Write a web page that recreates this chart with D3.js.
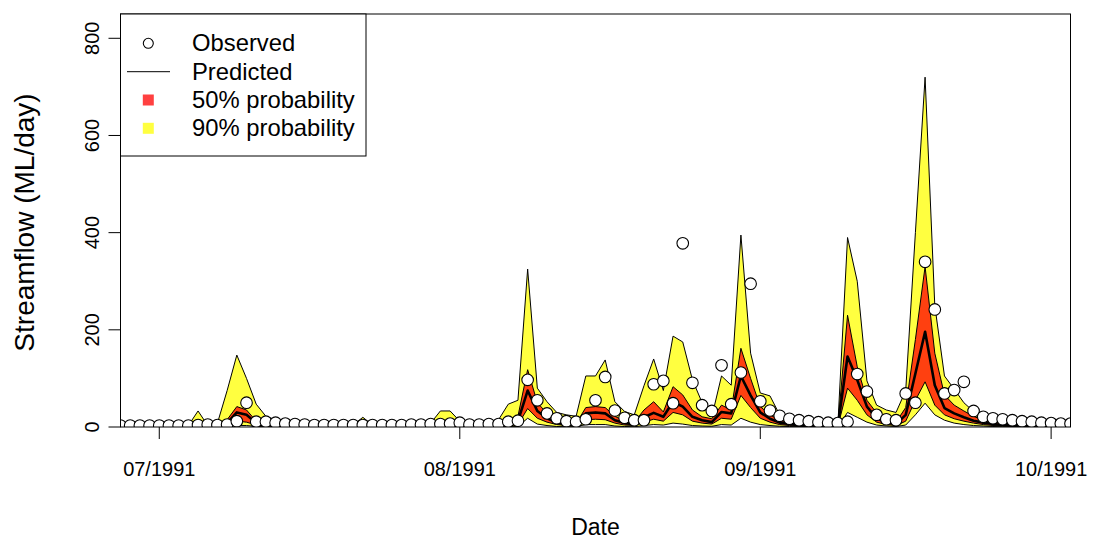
<!DOCTYPE html>
<html>
<head>
<meta charset="utf-8">
<script src="https://cdn.jsdelivr.net/npm/d3@7"></script>
<style>
  body { margin: 0; background: #fff; }
  svg { display: block; font-family: "Liberation Sans", Arial, sans-serif; }
</style>
</head>
<body>
<div id="chart"></div>
<script>
// daily series, first day 27/06/1991
const startDate = new Date(Date.UTC(1991, 5, 27));

const observed = [
  3, 3, 3, 3, 3, 3, 3, 3, 4, 5,
  4, 5, 12, 50, 11, 11, 9, 7, 6, 5,
  4, 4, 4, 4, 4, 4, 4, 4, 4, 4,
  5, 5, 6, 6, 7, 9, 5, 5, 6, 6,
  11, 13, 97, 55, 28, 18, 12, 11, 16, 55,
  103, 34, 19, 14, 14, 88, 95, 49, 378, 91,
  45, 33, 127, 47, 112, 295, 53, 34, 23, 17,
  14, 12, 10, 9, 8, 11, 109, 73, 25, 16,
  14, 69, 50, 340, 242, 69, 76, 93, 33, 21,
  18, 16, 14, 12, 11, 9, 8, 7, 7
];

const q95 = [
  2, 2, 2, 2, 2, 2, 2, 3, 33, 3,
  8, 75, 148, 100, 47, 22, 15, 12, 10, 8,
  6, 5, 4, 4, 4, 20, 4, 3, 3, 3,
  3, 5, 8, 33, 33, 12, 5, 4, 4, 15,
  47, 55, 325, 80, 52, 30, 25, 22, 105, 105,
  138, 52, 32, 25, 85, 140, 75, 187, 175, 97,
  50, 21, 105, 86, 395, 152, 70, 64, 25, 12,
  8, 6, 5, 4, 4, 390, 300, 95, 45, 35,
  30, 75, 400, 720, 250, 105, 78, 50, 32, 20,
  14, 11, 9, 7, 6, 5, 4, 4, 3
];

const q75 = [
  1, 1, 1, 1, 1, 1, 1, 1, 4, 1,
  3, 15, 42, 35, 12, 6, 4, 3, 3, 2,
  2, 2, 2, 2, 2, 4, 2, 2, 2, 2,
  2, 2, 3, 8, 10, 4, 2, 2, 2, 4,
  10, 22, 118, 50, 28, 14, 8, 7, 40, 42,
  40, 22, 12, 10, 35, 52, 31, 83, 66, 35,
  21, 17, 45, 35, 162, 100, 42, 25, 14, 9,
  5, 4, 3, 3, 3, 230, 124, 55, 29, 14,
  10, 40, 180, 330, 152, 66, 45, 33, 22, 14,
  10, 7, 5, 4, 3, 3, 2, 2, 2
];

const q50 = [
  0.5, 0.5, 0.5, 0.5, 0.5, 0.5, 0.5, 0.5, 2, 0.5,
  1.5, 8, 30, 25, 8, 4, 3, 2, 2, 1.5,
  1, 1, 1, 1, 1, 2, 1, 1, 1, 1,
  1, 1, 2, 4, 5, 2, 1, 1, 1, 2,
  5, 12, 75, 33, 18, 9, 5, 4, 28, 30,
  28, 14, 8, 6, 20, 29, 21, 52, 42, 21,
  14, 10, 31, 28, 105, 65, 30, 17, 9, 6,
  3, 2.5, 2, 2, 2, 145, 97, 42, 18, 9,
  6, 25, 110, 196, 86, 39, 28, 20, 13, 9,
  6, 4, 3, 2.5, 2, 1.5, 1.5, 1, 1
];

const q25 = [
  0.2, 0.2, 0.2, 0.2, 0.2, 0.2, 0.2, 0.2, 1, 0.2,
  0.5, 4, 12, 10, 4, 2, 1.5, 1, 1, 0.7,
  0.5, 0.5, 0.5, 0.5, 0.5, 1, 0.5, 0.5, 0.5, 0.5,
  0.5, 0.5, 1, 2, 2.5, 1, 0.5, 0.5, 0.5, 1,
  2, 5, 38, 18, 10, 5, 3, 2, 15, 16,
  15, 8, 4, 3, 10, 16, 12, 30, 25, 12,
  8, 6, 18, 16, 65, 40, 18, 10, 5, 3,
  1.5, 1, 1, 1, 1, 80, 55, 25, 10, 5,
  3, 12, 55, 93, 45, 25, 17, 12, 8, 5,
  3, 2, 1.5, 1, 1, 0.8, 0.7, 0.5, 0.5
];

const q05 = [
  0, 0, 0, 0, 0, 0, 0, 0, 0.2, 0,
  0, 1, 3, 3, 1, 0.5, 0.3, 0.2, 0.2, 0.1,
  0.1, 0.1, 0.1, 0.1, 0.1, 0.1, 0.1, 0.1, 0.1, 0.1,
  0.1, 0.1, 0.2, 0.5, 0.5, 0.2, 0.1, 0.1, 0.1, 0.2,
  0.5, 1, 18, 6, 3, 1, 0.5, 0.5, 5, 5,
  5, 2, 1, 0.5, 3, 5, 4, 8, 6, 3,
  2, 1.5, 5, 4, 18, 10, 5, 3, 1.5, 1,
  0.5, 0.3, 0.3, 0.3, 0.3, 30, 20, 10, 4, 2,
  1, 4, 25, 49, 25, 14, 8, 5, 3, 2,
  1, 0.5, 0.5, 0.3, 0.3, 0.2, 0.2, 0.1, 0.1
];

const yTicks = [0, 200, 400, 600, 800];
const xTicks = [
  new Date(Date.UTC(1991, 6, 1)),
  new Date(Date.UTC(1991, 7, 1)),
  new Date(Date.UTC(1991, 8, 1)),
  new Date(Date.UTC(1991, 9, 1))
];
const legendItems = ["Observed", "Predicted", "50% probability", "90% probability"];

const yellow = "rgba(255,255,0,0.75)";
const red = "rgba(255,0,0,0.75)";

const data = observed.map((o, i) => ({
  date: d3.utcDay.offset(startDate, i),
  obs: o, q05: q05[i], q25: q25[i], q50: q50[i], q75: q75[i], q95: q95[i]
}));

const width = 1093, height = 539;
const plotLeft = 120.5, plotRight = 1070.5, plotTop = 14, plotBottom = 427;

const x = d3.scaleUtc()
  .domain([startDate, data[data.length - 1].date])
  .range([plotLeft, plotRight]);
const y = d3.scaleLinear().domain([0, 850]).range([plotBottom, plotTop]);

const svg = d3.select("#chart").append("svg")
  .attr("width", width)
  .attr("height", height);

svg.append("clipPath").attr("id", "plotClip")
  .append("rect")
  .attr("x", plotLeft).attr("y", plotTop)
  .attr("width", plotRight - plotLeft).attr("height", plotBottom - plotTop);

const plot = svg.append("g").attr("clip-path", "url(#plotClip)");

// 90% band
plot.append("path")
  .datum(data)
  .attr("fill", yellow)
  .attr("stroke", "#000")
  .attr("stroke-width", 1)
  .attr("stroke-linejoin", "round")
  .attr("d", d3.area().x(d => x(d.date)).y0(d => y(d.q05)).y1(d => y(d.q95)));

// 50% band
plot.append("path")
  .datum(data)
  .attr("fill", red)
  .attr("stroke", "#000")
  .attr("stroke-width", 1)
  .attr("stroke-linejoin", "round")
  .attr("d", d3.area().x(d => x(d.date)).y0(d => y(d.q25)).y1(d => y(d.q75)));

// predicted (median)
plot.append("path")
  .datum(data)
  .attr("fill", "none")
  .attr("stroke", "#000")
  .attr("stroke-width", 2.6)
  .attr("stroke-linejoin", "round")
  .attr("d", d3.line().x(d => x(d.date)).y(d => y(d.q50)));

// observed points
plot.selectAll("circle.obs")
  .data(data)
  .enter().append("circle")
  .attr("class", "obs")
  .attr("cx", d => x(d.date))
  .attr("cy", d => y(d.obs))
  .attr("r", 5.8)
  .attr("fill", "#fff")
  .attr("stroke", "#000")
  .attr("stroke-width", 1.1);

// box
svg.append("rect")
  .attr("x", plotLeft).attr("y", plotTop)
  .attr("width", plotRight - plotLeft).attr("height", plotBottom - plotTop)
  .attr("fill", "none").attr("stroke", "#000").attr("stroke-width", 1);

// y axis
const yAxis = svg.append("g");
yAxis.append("line")
  .attr("x1", plotLeft).attr("x2", plotLeft)
  .attr("y1", y(yTicks[0])).attr("y2", y(yTicks[yTicks.length - 1]))
  .attr("stroke", "#000");
yAxis.selectAll("line.tick")
  .data(yTicks)
  .enter().append("line")
  .attr("class", "tick")
  .attr("x1", plotLeft - 12).attr("x2", plotLeft)
  .attr("y1", d => y(d)).attr("y2", d => y(d))
  .attr("stroke", "#000");
yAxis.selectAll("text")
  .data(yTicks)
  .enter().append("text")
  .attr("transform", d => `translate(99,${y(d)}) rotate(-90)`)
  .attr("text-anchor", "middle")
  .attr("font-size", 20)
  .text(d => d);

// x axis
const xAxis = svg.append("g");
xAxis.selectAll("line")
  .data(xTicks)
  .enter().append("line")
  .attr("x1", d => x(d)).attr("x2", d => x(d))
  .attr("y1", plotBottom).attr("y2", plotBottom + 12)
  .attr("stroke", "#000");
xAxis.selectAll("text")
  .data(xTicks)
  .enter().append("text")
  .attr("x", d => x(d))
  .attr("y", 476)
  .attr("text-anchor", "middle")
  .attr("font-size", 20)
  .text(d => d3.utcFormat("%m/%Y")(d));

// axis titles
svg.append("text")
  .attr("x", (plotLeft + plotRight) / 2)
  .attr("y", 535)
  .attr("text-anchor", "middle")
  .attr("font-size", 23)
  .text("Date");
svg.append("text")
  .attr("transform", `translate(34,${(plotTop + plotBottom) / 2 + 2}) rotate(-90)`)
  .attr("text-anchor", "middle")
  .attr("font-size", 28)
  .text("Streamflow (ML/day)");

// legend
const legend = svg.append("g");
legend.append("rect")
  .attr("x", plotLeft).attr("y", plotTop)
  .attr("width", 245.5).attr("height", 142)
  .attr("fill", "#fff").attr("stroke", "#000");
const rowY = [43.3, 71.7, 100, 128.3];
legend.append("circle")
  .attr("cx", 148.3).attr("cy", rowY[0]).attr("r", 5)
  .attr("fill", "#fff").attr("stroke", "#000").attr("stroke-width", 1.1);
legend.append("line")
  .attr("x1", 127).attr("x2", 170)
  .attr("y1", rowY[1]).attr("y2", rowY[1])
  .attr("stroke", "#000");
legend.append("rect")
  .attr("x", 142.8).attr("y", rowY[2] - 5.5)
  .attr("width", 11).attr("height", 11)
  .attr("fill", red);
legend.append("rect")
  .attr("x", 142.8).attr("y", rowY[3] - 5.5)
  .attr("width", 11).attr("height", 11)
  .attr("fill", yellow);
legend.selectAll("text")
  .data(legendItems)
  .enter().append("text")
  .attr("x", 192)
  .attr("y", (d, i) => rowY[i] + 8)
  .attr("font-size", 23.8)
  .text(d => d);
</script>
</body>
</html>
